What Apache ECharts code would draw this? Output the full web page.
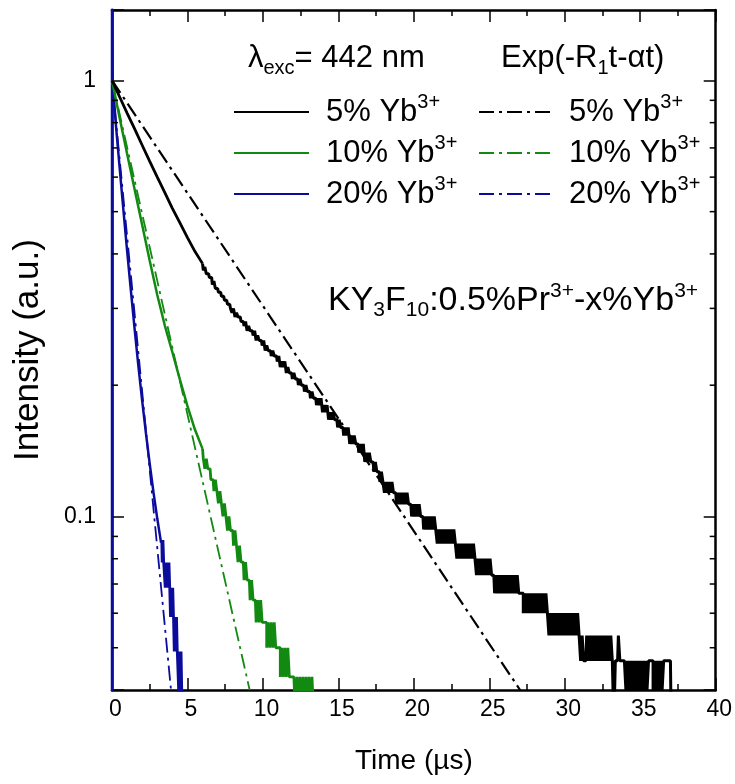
<!DOCTYPE html>
<html>
<head>
<meta charset="utf-8">
<script src="https://cdn.jsdelivr.net/npm/echarts@6/dist/echarts.min.js"></script>
<style>html,body{margin:0;padding:0;background:#fff}#c{width:735px;height:784px}</style>
</head>
<body>
<div id="c"></div>
<script>
// ---------------- axes ----------------
const X_MIN = 0, X_MAX = 40, X_STEP = 5;
const Y_MIN = 0.04, Y_MAX = 1.45;
const yMajorTicks = [0.1, 1];
const yMinorTicks = [0.05, 0.06, 0.07, 0.08, 0.09, 0.2, 0.3, 0.4, 0.5, 0.6, 0.7, 0.8, 0.9];

// ---------------- 5% Yb (black) ----------------
// early part read as intensity
const black5Early = [[0,1.0],[0.5,0.917],[1,0.841],[1.5,0.774],[2,0.710],[2.5,0.652],[3,0.600],[3.5,0.553],[4,0.509],[4.5,0.471],[5,0.436],[5.5,0.405]];
// later part read as detector counts (1 count = 1/150 of the t=0 intensity)
const black5Norm = 150;
const black5Counts = [
[6.0,57],[6.1,55],[6.2,56],[6.3,54],[6.4,54],[6.5,53],[6.6,53],[6.7,51],[6.8,52],[6.9,50],
[7.0,50],[7.1,49],[7.2,49],[7.3,48],[7.4,48],[7.5,47],[7.6,47],[7.7,46],[7.8,46],[7.9,45],
[8.0,44],[8.1,45],[8.2,43],[8.3,44],[8.4,43],[8.5,43],[8.6,42],[8.7,42],[8.8,41],[8.9,42],
[9.0,40],[9.1,41],[9.2,40],[9.3,40],[9.4,39],[9.5,40],[9.6,38],[9.7,39],[9.8,38],[9.9,38],
[10.0,37],[10.1,38],[10.2,36],[10.3,37],[10.4,36],[10.5,36],[10.6,35],[10.7,36],[10.8,35],[10.9,35],
[11.0,34],[11.1,35],[11.2,33],[11.3,34],[11.4,33],[11.5,34],[11.6,32],[11.7,33],[11.8,32],[11.9,32],
[12.0,31],[12.1,32],[12.2,31],[12.3,31],[12.4,30],[12.5,31],[12.6,30],[12.7,30],[12.8,29],[12.9,30],
[13.0,29],[13.1,29],[13.2,28],[13.3,29],[13.4,28],[13.5,28],[13.6,27],[13.7,28],[13.8,27],[13.9,28],
[14.0,26],[14.1,27],[14.2,26],[14.3,27],[14.4,25],[14.5,26],[14.6,25],[14.7,26],[14.8,25],[14.9,25],
[15.0,24],[15.1,25],[15.2,24],[15.3,24],[15.4,23],[15.5,24],[15.6,23],[15.7,24],[15.8,22],[15.9,23],
[16.0,22],[16.1,23],[16.2,22],[16.3,22],[16.4,21],[16.5,22],[16.6,21],[16.7,22],[16.8,20],[16.9,21],
[17.0,20],[17.1,21],[17.2,20],[17.3,20],[17.4,19],[17.5,20],[17.6,19],
[17.7,19],[17.8,18],[17.9,19],[18.0,18],[18.1,17],[18.2,18],[18.3,17],[18.4,18],[18.5,17],[18.6,18],[18.7,17],
[18.8,17],[18.9,16],[19.0,17],[19.1,16],[19.2,17],[19.3,16],[19.4,17],[19.5,16],[19.6,17],[19.7,16],
[19.8,16],[19.9,15],[20.0,16],[20.1,15],[20.2,16],[20.3,15],[20.4,16],[20.5,15],
[20.6,15],[20.7,14],[20.8,15],[20.9,14],[21.0,15],[21.1,14],[21.2,15],[21.3,14],[21.4,15],[21.5,14],
[21.6,13],[21.7,14],[21.8,13],[21.9,14],[22.0,13],[22.1,14],[22.2,13],[22.3,14],[22.4,13],[22.5,14],[22.6,13],[22.7,14],[22.8,13],
[22.9,12],[23.0,13],[23.1,12],[23.2,13],[23.3,12],[23.4,13],[23.5,12],[23.6,13],[23.7,12],[23.8,13],[23.9,12],[24.0,13],[24.1,12],
[24.2,11],[24.3,12],[24.4,11],[24.5,12],[24.6,11],[24.7,12],[24.8,11],[24.9,12],[25.0,11],[25.1,12],[25.2,11],
[25.3,11],[25.4,10],[25.5,11],[25.6,10],[25.7,11],[25.8,10],[25.9,11],[26.0,10],[26.1,11],[26.2,10],[26.3,11],[26.4,10],[26.5,11],[26.6,10],[26.7,11],[26.8,10],[26.9,11],[27.0,10],[27.1,10],[27.2,10],
[27.3,9],[27.4,10],[27.5,9],[27.6,10],[27.7,9],[27.8,10],[27.9,9],[28.0,10],[28.1,9],[28.2,10],[28.3,9],[28.4,10],[28.5,9],[28.6,10],[28.7,9],[28.8,10],[28.9,9],
[29.0,8],[29.1,9],[29.2,8],[29.3,9],[29.4,8],[29.5,9],[29.6,8],[29.7,9],[29.8,8],[29.9,9],[30.0,8],[30.1,9],[30.2,8],[30.3,9],[30.4,8],[30.5,9],[30.6,8],[30.7,9],[30.8,8],[30.9,9],
[31.0,8],[31.1,7],[31.2,8],[31.3,7],[31.4,7],[31.5,8],[31.6,7],[31.7,8],[31.8,7],[31.9,8],[32.0,7],[32.1,8],[32.2,7],[32.3,8],[32.4,7],[32.5,8],[32.6,7],[32.7,8],[32.8,7],[32.9,8],[33.0,7],[33.1,8],[33.2,7],
[33.3,5],[33.4,7],[33.5,7],[33.6,8],[33.7,7],[33.8,7],[33.9,7],[34.0,7],
[34.1,6],[34.2,7],[34.3,6],[34.4,7],[34.5,6],[34.6,7],[34.7,6],[34.8,7],[34.9,6],[35.0,7],[35.1,6],[35.2,7],[35.3,6],[35.4,7],[35.5,6],[35.6,7],[35.7,7],[35.8,7],[35.9,6],[36.0,7],[36.1,6],[36.2,7],[36.3,6],[36.4,7],[36.5,6],[36.6,7],
[36.7,7],[36.8,7],[36.9,7],[37.0,7],[37.1,5]
];

// ---------------- 10% Yb (green) ----------------
const green10Early = [[0,1.0],[0.5,0.822],[1,0.679],[1.5,0.562],[2,0.466],[2.5,0.386],[3,0.322],[3.5,0.274],[4,0.238],[4.5,0.206],[5,0.179],[5.5,0.158]];
const green10Norm = 140;
const green10Counts = [
[6.0,20],[6.1,19],[6.2,18],[6.3,19],[6.4,18],[6.5,18],[6.6,17],[6.7,17],[6.8,16],[6.9,17],[7.0,16],[7.1,15],[7.2,16],[7.3,15],[7.4,14],[7.5,15],[7.6,14],[7.7,13],[7.8,14],[7.9,13],
[8.0,13],[8.1,12],[8.2,13],[8.3,12],[8.4,11],[8.5,12],[8.6,11],[8.7,11],[8.8,10],[8.9,11],[9.0,10],[9.1,10],[9.2,9],[9.3,10],[9.4,9],[9.5,9],[9.6,8],[9.7,9],[9.8,8],[9.9,9],
[10.0,8],[10.1,8],[10.2,8],[10.3,7],[10.4,8],[10.5,7],[10.6,8],[10.7,7],[10.8,8],[10.9,7],[11.0,7],[11.1,7],[11.2,6],[11.3,7],[11.4,6],[11.5,7],[11.6,6],[11.7,7],[11.8,6],[11.9,6],
[12.0,6],[12.1,6],[12.2,5],[12.3,6],[12.4,5],[12.5,6],[12.6,5],[12.7,6],[12.8,5],[12.9,6],[13.0,5],[13.1,6],[13.2,5],[13.3,6],[13.4,5]
];

// ---------------- 20% Yb (blue) ----------------
const blue20Early = [[0,0.03],[0,2.0],[0.04,1.0],[0.25,0.796],[0.5,0.634],[0.75,0.507],[1,0.407],[1.25,0.330],[1.5,0.269],[1.75,0.221],[2,0.184],[2.25,0.155],[2.5,0.132],[2.75,0.1135],[3,0.0989],[3.25,0.0871]];
const blue20Norm = 102;
const blue20Counts = [
[3.30,9],[3.35,8],[3.40,9],[3.45,8],[3.50,8],[3.55,7],[3.60,8],[3.65,7],[3.70,8],[3.75,7],[3.80,8],[3.85,7],[3.90,6],[3.95,7],
[4.00,6],[4.05,7],[4.10,6],[4.15,5],[4.20,6],[4.25,5],[4.30,6],[4.35,5],[4.40,5],[4.45,4],[4.50,5],[4.55,4],[4.60,5],[4.65,4]
];

// ---------------- fits Exp(-R1 t - alpha t) ----------------
const fit5 = [[0,1],[10,0.304],[20,0.0926],[27.04,0.04]];
const fit10 = [[0,1],[3,0.347],[6,0.1205],[9.12,0.04]];
const fit20 = [[0,1],[2,0.193],[3.91,0.04]];

const seriesNames = ['5% Yb', '10% Yb', '20% Yb'];
const fitNames = ['5% Yb fit', '10% Yb fit', '20% Yb fit'];

// ---------------- styling ----------------
const FONT = "'Liberation Sans', Arial, Helvetica, sans-serif";
const BLACK = '#000000', GREEN = '#128a12', BLUE = '#0c0c9c';
const DASHDOT = [15, 5, 3, 5];

function makeRich(main, small, padLeft) {
  return {
    m:   {fontFamily: FONT, fontSize: main, lineHeight: 40, verticalAlign: 'middle', color: '#000'},
    p:   {fontFamily: FONT, fontSize: main, lineHeight: 40, verticalAlign: 'middle', color: '#000', padding: [0, 0, 0, padLeft || 0]},
    sup: {fontFamily: FONT, fontSize: small, lineHeight: 22, verticalAlign: 'top', color: '#000'},
    sub: {fontFamily: FONT, fontSize: small, lineHeight: 12, verticalAlign: 'bottom', color: '#000'}
  };
}
const RICH = makeRich(31, 20, 0);
const RICH_L1 = makeRich(31, 20, 12);
const RICH_L2 = makeRich(31, 20, 10);
const RICH_K = makeRich(34, 21, 0);

const toI = (arr, norm) => arr.map(([t, c]) => [t, c / norm]);

const chart = echarts.init(document.getElementById('c'), null, {renderer: 'canvas'});

function lineSeries(name, data, color, width, dash, step) {
  return {
    name: name, type: 'line', data: data, showSymbol: false, symbol: 'none',
    step: step || false,
    clip: true, silent: true, animation: false,
    lineStyle: {color: color, width: width, type: dash || 'solid', cap: 'butt', join: 'bevel'},
    itemStyle: {color: color},
    emphasis: {disabled: true}
  };
}

const legendFmt = (name) => '{p|' + name.replace(' fit', '') + '}{sup|3+}';

const axisCommon = {
  axisLine: {show: true, onZero: false, lineStyle: {color: '#000', width: 2.5}},
  axisTick: {show: true, inside: true, length: 12, lineStyle: {color: '#000', width: 1.5}},
  splitLine: {show: false}
};

const black5CountsI = toI(black5Counts, black5Norm);
const green10CountsI = toI(green10Counts, green10Norm);
const blue20CountsI = toI(blue20Counts, blue20Norm);

const option = {
  animation: false,
  backgroundColor: '#ffffff',
  grid: {left: 112, right: 18, top: 10, bottom: 94, containLabel: false},
  xAxis: [
    Object.assign({}, axisCommon, {
      type: 'value', min: X_MIN, max: X_MAX, interval: X_STEP, position: 'bottom',
      name: 'Time (µs)', nameLocation: 'middle', nameGap: 57,
      nameTextStyle: {fontFamily: FONT, fontSize: 28, color: '#000'},
      minorTick: {show: true, splitNumber: 2, length: 6, lineStyle: {color: '#000', width: 1.5}},
      minorSplitLine: {show: false},
      axisLabel: {fontFamily: FONT, fontSize: 23, color: '#000', margin: 8, padding: [0, 0, 0, 7]}
    }),
    Object.assign({}, axisCommon, {
      type: 'value', min: X_MIN, max: X_MAX, interval: X_STEP, position: 'top',
      minorTick: {show: true, splitNumber: 2, length: 6, lineStyle: {color: '#000', width: 1.5}},
      minorSplitLine: {show: false},
      axisLabel: {show: false}
    })
  ],
  yAxis: [
    Object.assign({}, axisCommon, {
      type: 'log', logBase: 10, min: Y_MIN, max: Y_MAX, position: 'left',
      name: 'Intensity (a.u.)', nameLocation: 'middle', nameGap: 66,
      nameTextStyle: {fontFamily: FONT, fontSize: 35, color: '#000'},
      axisLabel: {
        fontFamily: FONT, fontSize: 23, color: '#000', margin: 16,
        formatter: (v) => {
          for (const m of yMajorTicks) { if (Math.abs(v - m) < 1e-9) return String(m); }
          return '';
        }
      }
    }),
    Object.assign({}, axisCommon, {
      type: 'log', logBase: 10, min: Y_MIN, max: Y_MAX, position: 'right',
      axisLabel: {show: false}
    })
  ],
  legend: [
    {
      data: seriesNames, orient: 'vertical', left: 233, top: 92,
      itemWidth: 75, itemHeight: 14, itemGap: 5.5, padding: 0,
      selectedMode: false, itemStyle: {opacity: 0},
      formatter: legendFmt, textStyle: {fontFamily: FONT, fontSize: 31, color: '#000', rich: RICH_L1}
    },
    {
      data: fitNames, orient: 'vertical', left: 478, top: 92,
      itemWidth: 75, itemHeight: 14, itemGap: 5.5, padding: 0,
      selectedMode: false, itemStyle: {opacity: 0},
      formatter: legendFmt, textStyle: {fontFamily: FONT, fontSize: 31, color: '#000', rich: RICH_L2}
    }
  ],
  graphic: [
    {type: 'text', x: 248, y: 58, z: 100, silent: true,
     style: {text: '{m|λ}{sub|exc}{m|= 442 nm}', rich: RICH, fontFamily: FONT, fontSize: 31, fill: '#000', align: 'left', verticalAlign: 'middle'}},
    {type: 'text', x: 501, y: 58, z: 100, silent: true,
     style: {text: '{m|Exp(-R}{sub|1}{m|t-αt)}', rich: RICH, fontFamily: FONT, fontSize: 31, fill: '#000', align: 'left', verticalAlign: 'middle'}},
    {type: 'text', x: 328, y: 301, z: 100, silent: true,
     style: {text: '{m|KY}{sub|3}{m|F}{sub|10}{m|:0.5%Pr}{sup|3+}{m|-x%Yb}{sup|3+}', rich: RICH_K, fontFamily: FONT, fontSize: 34, fill: '#000', align: 'left', verticalAlign: 'middle'}}
  ],
  series: [
    lineSeries(fitNames[0], fit5, BLACK, 2.2, DASHDOT),
    lineSeries(fitNames[1], fit10, GREEN, 1.8, DASHDOT),
    lineSeries(fitNames[2], fit20, BLUE, 1.8, DASHDOT),
    lineSeries(seriesNames[2], blue20Early.concat(blue20CountsI.slice(0, 1)), BLUE, 2.5),
    lineSeries(seriesNames[2], blue20CountsI, BLUE, 2.8, null, 'middle'),
    lineSeries(seriesNames[1], green10Early.concat(green10CountsI.slice(0, 1)), GREEN, 2.5),
    lineSeries(seriesNames[1], green10CountsI, GREEN, 2.8, null, 'middle'),
    lineSeries(seriesNames[0], black5Early.concat(black5CountsI.slice(0, 1)), BLACK, 2.8),
    lineSeries(seriesNames[0], black5CountsI, BLACK, 3.0, null, 'middle'),
    {
      type: 'custom', name: 'minorTicks', silent: true, xAxisIndex: 0, yAxisIndex: 0, z: 5,
      data: yMinorTicks.map(v => [X_MIN, v]),
      renderItem: (params, api) => {
        const v = api.value(1);
        const pL = api.coord([X_MIN, v]);
        const pR = api.coord([X_MAX, v]);
        return {type: 'group', children: [
          {type: 'line', shape: {x1: pL[0], y1: pL[1], x2: pL[0] + 6, y2: pL[1]}, style: {stroke: '#000', lineWidth: 1.5}},
          {type: 'line', shape: {x1: pR[0] - 6, y1: pR[1], x2: pR[0], y2: pR[1]}, style: {stroke: '#000', lineWidth: 1.5}}
        ]};
      }
    }
  ]
};
chart.setOption(option);
</script>
</body>
</html>
